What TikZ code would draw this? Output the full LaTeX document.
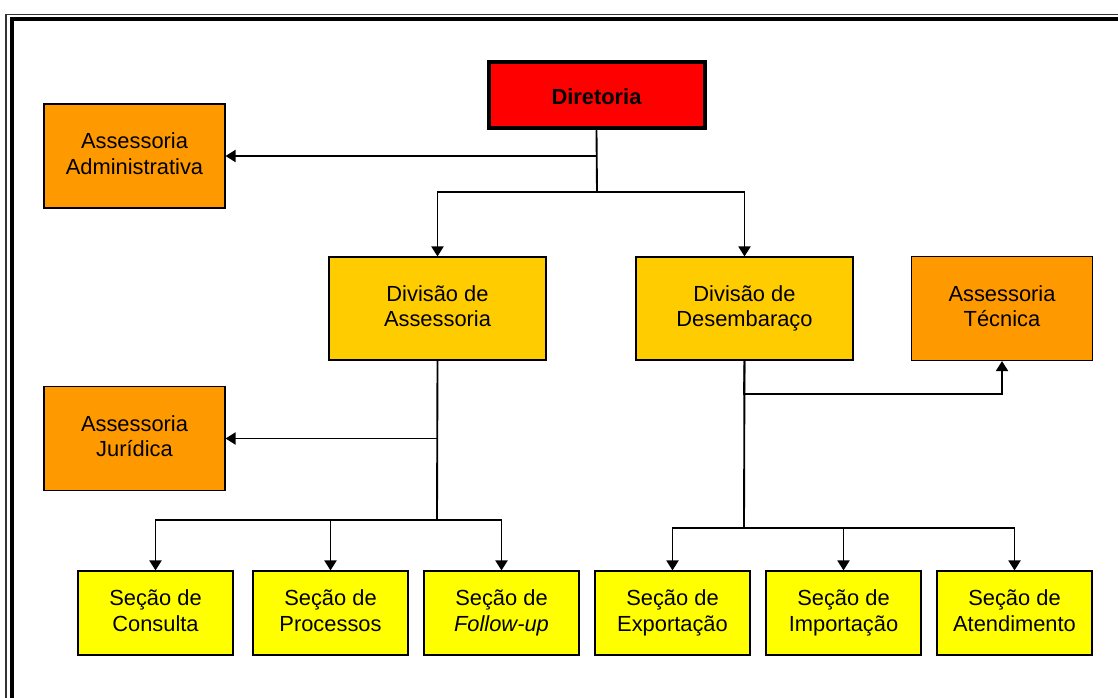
\documentclass[tikz,border=0pt]{standalone}
\usepackage{fontspec}
\setmainfont{Liberation Sans}
\usetikzlibrary{arrows.meta}

\definecolor{diretred}{HTML}{FF0000}
\definecolor{assorange}{HTML}{FF9900}
\definecolor{divgold}{HTML}{FFCC00}
\definecolor{secyellow}{HTML}{FFFF00}

\newcommand{\orgstrut}{\rule[-0.22em]{0pt}{1.29em}}

\begin{document}
\begin{tikzpicture}[
        x=0.75pt, y=-0.75pt,
        every node/.style={font=\fontsize{16.4}{19}\selectfont},
        unit/.style={draw, line width=0.8pt, align=center, inner sep=0pt,
            execute at begin node=\orgstrut, execute at end node=\orgstrut},
        board/.style={unit, fill=diretred, line width=3pt, minimum width=162pt, minimum height=50pt, font=\fontsize{16.4}{19}\selectfont\bfseries},
        staff/.style={unit, fill=assorange, minimum width=135.75pt, minimum height=78pt},
        division/.style={unit, fill=divgold, minimum width=162.75pt, minimum height=77.25pt},
        section/.style={unit, fill=secyellow, minimum width=116.25pt, minimum height=63pt},
        arrow/.style={-{Triangle[length=7.5pt,width=9pt]}, line width=1.4pt},
        link/.style={line width=1.4pt}
    ]

    \useasboundingbox (0,0) rectangle (1118,697);
    \begin{scope}
    \clip (0,0) rectangle (1118,697);
    % Frame
    \draw[line width=0.8pt, black!80] (6,14.5) rectangle (1140,720);
    \draw[line width=3.4pt] (12,19) rectangle (1135,715);
    \end{scope}

    % Nodes
    \node [board] (diretoria) at (596.5,95) {Diretoria};
    \node [staff] (admin) at (134.5,156) {Assessoria\\Administrativa};
    \node [division] (divassess) at (437.5,308.5) {Divisão de\\Assessoria};
    \node [division] (divdesemb) at (744.5,308.5) {Divisão de\\Desembaraço};
    \node [staff] (tecnica) at (1002,308.5) {Assessoria\\Técnica};
    \node [staff] (juridica) at (134.5,438.5) {Assessoria\\Jurídica};

    \node [section] (consulta) at (155.5,613) {Seção de\\Consulta};
    \node [section] (processos) at (330.5,613) {Seção de\\Processos};
    \node [section] (followup) at (501.5,613) {Seção de\\\textit{Follow-up}};
    \node [section] (exportacao) at (672.5,613) {Seção de\\Exportação};
    \node [section] (importacao) at (843.5,613) {Seção de\\Importação};
    \node [section] (atendimento) at (1014.5,613) {Seção de\\Atendimento};

    % Junctions
    \coordinate (dirjoin) at (597,192);
    \coordinate (assjoin) at (437,520);
    \coordinate (desjoin) at (744,528);
    \coordinate (tecjoin) at (744,394);

    % Arrows
    \draw[arrow] (diretoria.south) |- (admin.east);
    \draw[link] (diretoria.south) -- (dirjoin);
    \draw[arrow] (dirjoin) -| (divassess.north);
    \draw[arrow] (dirjoin) -| (divdesemb.north);

    \draw[arrow] (divassess.south) |- (juridica.east);
    \draw[link] (divassess.south) -- (assjoin);
    \draw[arrow] (assjoin) -| (consulta.north);
    \draw[arrow] (assjoin) -| (processos.north);
    \draw[arrow] (assjoin) -| (followup.north);

    \draw[arrow] (divdesemb.south) -- (tecjoin) -| (tecnica.south);
    \draw[link] (divdesemb.south) -- (desjoin);
    \draw[arrow] (desjoin) -| (exportacao.north);
    \draw[arrow] (desjoin) -| (importacao.north);
    \draw[arrow] (desjoin) -| (atendimento.north);

\end{tikzpicture}
\end{document}
